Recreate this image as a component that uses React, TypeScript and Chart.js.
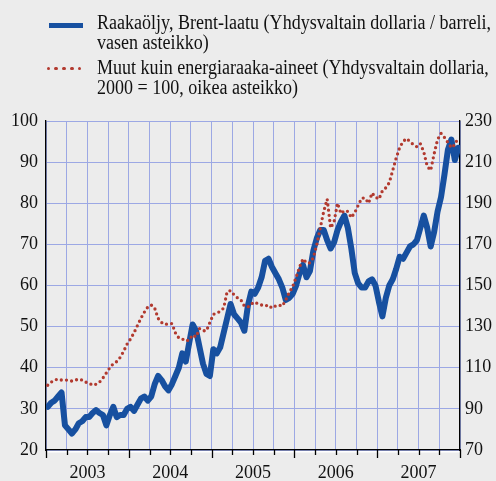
import React, { useEffect, useLayoutEffect, useRef } from "react";
import { Chart, registerables } from "chart.js";

Chart.register(...registerables);

// Years shown on the time axis
const years = [2003, 2004, 2005, 2006, 2007];

// Brent crude oil, USD / barrel (left scale), semi-monthly readings
const brent2003 = [30.5, 31.5, 32, 33, 34, 26, 25, 24, 25, 26.5, 27, 28, 28, 29, 29.7, 29, 28.5, 26, 28.5, 30.5, 28, 28.5, 28.5, 30];
const brent2004 = [30.5, 29.5, 31, 32.5, 33, 32, 33, 36, 38, 37, 35.5, 34.5, 36, 38, 40, 43.5, 41.5, 46, 50.5, 49, 45, 41, 38.5, 38];
const brent2005 = [44.5, 43.5, 45, 48.5, 52, 55.5, 53, 52, 51, 49, 55, 58.5, 58, 59.5, 62, 66, 66.5, 64.5, 63, 61.5, 59.5, 56.5, 57, 58];
const brent2006 = [60, 63, 65, 62, 63.5, 68.5, 71.5, 73.5, 73.5, 71, 69, 70.5, 73.5, 75.5, 77, 74, 69, 63, 60.5, 59.5, 59.5, 61, 61.5, 60];
const brent2007 = [56, 52.5, 57, 60, 61.5, 64, 67, 66.5, 68, 69.5, 70, 71, 74, 77, 74, 69.5, 73, 78, 81.5, 87, 93, 95.5, 90.5, 93.5];

// Non-energy commodities, USD, 2000 = 100 (right scale), semi-monthly readings
const other2003 = [101.5, 103, 104, 104.5, 104, 104, 104, 103.5, 104, 104.5, 104, 103, 102.5, 101.5, 102, 103, 105, 107.5, 110, 112, 113, 115, 118, 121.5];
const other2004 = [124, 127, 130.5, 134, 137, 139.5, 140.5, 139, 134, 132, 131, 131.5, 131.5, 127, 124.5, 124, 123, 123.5, 126, 125, 129, 128, 128, 132];
const other2005 = [136, 136.5, 137.5, 139, 147, 147.5, 145.5, 144, 143, 140, 139.5, 141, 142, 141, 140.5, 140, 140.5, 139, 140, 140.5, 140, 143, 146.5, 149.5];
const other2006 = [154, 159, 163, 161, 161, 163.5, 170, 178, 186, 192, 178, 181, 190, 185, 186.5, 186, 183, 185.5, 189, 192.5, 192.5, 190, 195, 193];
const other2007 = [192, 196, 197.5, 200, 206, 212, 217, 220, 221.5, 220, 218.5, 217.5, 219, 215, 208, 206, 214, 221, 224, 222, 219.5, 217, 218.5, 222];

// Axis ranges and tick steps
const leftMin = 20, leftMax = 100, leftStep = 10;
const rightMin = 70, rightMax = 230, rightStep = 20;

const legendLabels = [
  ["Raakaöljy, Brent-laatu (Yhdysvaltain dollaria / barreli,", "vasen asteikko)"],
  ["Muut kuin energiaraaka-aineet (Yhdysvaltain dollaria,", "2000 = 100, oikea asteikko)"],
];

const BLUE = "#1750a0";
const RED = "#b23a2f";
const GRID = "#9ca8e4";
const FONT = "'Liberation Serif', 'Times New Roman', serif";

function toPoints(series: number[][]) {
  const flat = series.flat();
  return flat.map((v, i) => ({ x: years[0] + (i + 0.5) / 24, y: v }));
}

const quarterTicks = years.flatMap((y) => [y, y + 0.25, y + 0.5, y + 0.75]).concat(years[years.length - 1] + 1);

const axisTicksPlugin = {
  id: "axisTicks",
  afterDraw(chart: any) {
    const { ctx, chartArea, scales } = chart;
    const xs = scales.x;
    ctx.save();
    ctx.strokeStyle = "#ffffff";
    ctx.lineWidth = 1.5;
    ctx.beginPath();
    ctx.moveTo(chartArea.left, chartArea.bottom + 1.8);
    ctx.lineTo(chartArea.right, chartArea.bottom + 1.8);
    ctx.stroke();
    ctx.strokeStyle = "#000000";
    ctx.lineWidth = 1.3;
    quarterTicks.forEach((v) => {
      const px = Math.round(xs.getPixelForValue(v)) + 0.5;
      const isYear = Math.abs(v - Math.round(v)) < 1e-9;
      ctx.beginPath();
      ctx.moveTo(px, chartArea.bottom);
      ctx.lineTo(px, chartArea.bottom + (isYear ? 8 : 5));
      ctx.stroke();
    });
    ctx.restore();
  },
};

export default function App() {
  const canvasRef = useRef<HTMLCanvasElement | null>(null);
  const legendRef = useRef<HTMLDivElement | null>(null);
  const firstLineRef = useRef<HTMLSpanElement | null>(null);

  useLayoutEffect(() => {
    const span = firstLineRef.current;
    const box = legendRef.current;
    if (span && box) {
      const w = span.getBoundingClientRect().width;
      if (w > 0) box.style.transform = `scaleX(${394 / w})`;
    }
  }, []);

  useEffect(() => {
    if (!canvasRef.current) return;
    const chart = new Chart(canvasRef.current, {
      type: "line",
      data: {
        datasets: [
          {
            label: legendLabels[1].join(" "),
            data: toPoints([other2003, other2004, other2005, other2006, other2007]),
            yAxisID: "y1",
            borderColor: RED,
            borderWidth: 3.3,
            borderDash: [0, 5.2],
            borderCapStyle: "round",
            borderJoinStyle: "round",
            pointRadius: 0,
            tension: 0,
            fill: false,
          },
          {
            label: legendLabels[0].join(" "),
            data: toPoints([brent2003, brent2004, brent2005, brent2006, brent2007]),
            yAxisID: "y",
            borderColor: BLUE,
            borderWidth: 6,
            borderJoinStyle: "round",
            borderCapStyle: "round",
            pointRadius: 0,
            tension: 0,
            fill: false,
          },
        ],
      },
      options: {
        responsive: false,
        animation: false,
        devicePixelRatio: 1,
        parsing: false as any,
        layout: { padding: { top: 121, left: 0, right: 0, bottom: 0 } },
        plugins: { legend: { display: false }, tooltip: { enabled: false } },
        scales: {
          x: {
            type: "linear",
            min: years[0],
            max: years[years.length - 1] + 1,
            afterBuildTicks: (scale: any) => {
              scale.ticks = quarterTicks.map((v) => ({ value: v }));
            },
            afterFit: (scale: any) => {
              scale.height = 31;
            },
            grid: { color: GRID, lineWidth: 1, drawTicks: false },
            border: { display: true, color: "#000", width: 1.3 },
            ticks: {
              autoSkip: false,
              maxRotation: 0,
              padding: 12,
              color: "#111",
              font: { family: FONT, size: 18 },
              callback: (value: any) => {
                const v = Number(value);
                return Math.abs(v - Math.floor(v) - 0.5) < 1e-9 ? String(Math.floor(v)) : "";
              },
            },
          },
          y: {
            type: "linear",
            position: "left",
            min: leftMin,
            max: leftMax,
            afterFit: (scale: any) => {
              scale.width = 46;
            },
            grid: { color: GRID, lineWidth: 1, drawTicks: false },
            border: { display: true, color: "#000", width: 1.3 },
            ticks: {
              stepSize: leftStep,
              padding: 8,
              color: "#111",
              font: { family: FONT, size: 18 },
            },
          },
          y1: {
            type: "linear",
            position: "right",
            min: rightMin,
            max: rightMax,
            afterFit: (scale: any) => {
              scale.width = 36;
            },
            grid: { drawOnChartArea: false, drawTicks: false },
            border: { display: true, color: "#000", width: 1.3 },
            ticks: {
              stepSize: rightStep,
              padding: 5,
              color: "#111",
              font: { family: FONT, size: 18 },
            },
          },
        },
      },
      plugins: [axisTicksPlugin],
    });
    return () => chart.destroy();
  }, []);

  const textStyle: React.CSSProperties = {
    fontFamily: FONT,
    fontSize: 20,
    lineHeight: "20px",
    color: "#111",
    whiteSpace: "nowrap",
  };

  return (
    <div
      style={{
        position: "fixed",
        left: 0,
        top: 0,
        width: 496,
        height: 481,
        background: "#ececec",
        overflow: "hidden",
      }}
    >
      <canvas ref={canvasRef} width={496} height={481} style={{ position: "absolute", left: 0, top: 0 }} />
      {/* legend markers */}
      <div style={{ position: "absolute", left: 49, top: 23, width: 34, height: 4.5, background: BLUE }} />
      {[0, 1, 2, 3, 4].map((i) => (
        <div
          key={i}
          style={{
            position: "absolute",
            left: 46.5 + i * 7.9,
            top: 66.8,
            width: 3.4,
            height: 3.4,
            borderRadius: "50%",
            background: RED,
          }}
        />
      ))}
      <div
        ref={legendRef}
        style={{ position: "absolute", left: 97, top: 11.6, transformOrigin: "0 0", ...textStyle }}
      >
        <div>
          <span ref={firstLineRef}>{legendLabels[0][0]}</span>
        </div>
        <div>{legendLabels[0][1]}</div>
        <div style={{ marginTop: 5 }}>{legendLabels[1][0]}</div>
        <div>{legendLabels[1][1]}</div>
      </div>
    </div>
  );
}
